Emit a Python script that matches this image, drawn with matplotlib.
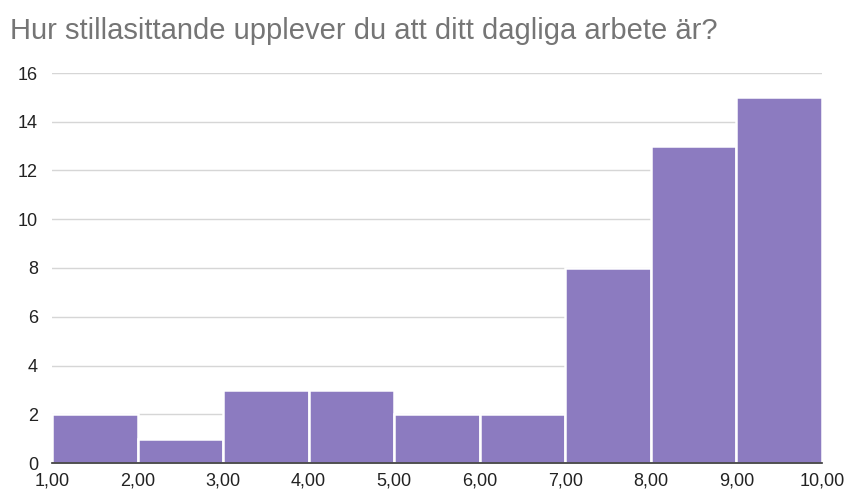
import matplotlib.pyplot as plt

# histogram bins (left edges) and counts
bin_starts = [1, 2, 3, 4, 5, 6, 7, 8, 9]
counts = [2, 1, 3, 3, 2, 2, 8, 13, 15]
x_ticks = [1, 2, 3, 4, 5, 6, 7, 8, 9, 10]
x_labels = ["1,00", "2,00", "3,00", "4,00", "5,00", "6,00", "7,00", "8,00", "9,00", "10,00"]
y_ticks = [0, 2, 4, 6, 8, 10, 12, 14, 16]

plt.rcParams['font.family'] = ['Liberation Sans', 'DejaVu Sans']

fig = plt.figure(figsize=(8.46, 4.9), dpi=100)
ax = fig.add_axes([52 / 846, 27 / 490, 770 / 846, 390 / 490])

ax.bar(bin_starts, counts, width=1, align='edge', color='#8c7bc0',
       edgecolor='white', linewidth=1.8, zorder=3)

ax.set_xlim(1, 10)
ax.set_ylim(0, 16)
ax.set_xticks(x_ticks)
ax.set_xticklabels(x_labels)
ax.set_yticks(y_ticks)
ax.tick_params(axis='both', length=0, labelsize=13, colors='#222222')
ax.tick_params(axis='x', pad=7)
ax.tick_params(axis='y', pad=10)

ax.grid(axis='y', color='#d6d6d6', linewidth=1, zorder=0)
for side in ['top', 'right', 'left']:
    ax.spines[side].set_visible(False)
ax.spines['bottom'].set_color('#333333')
ax.spines['bottom'].set_linewidth(1.2)
ax.spines['bottom'].set_zorder(4)

fig.text(10 / 846, 1 - 31 / 490, "Hur stillasittande upplever du att ditt dagliga arbete är?",
         fontsize=21, color='#757575', va='center', ha='left')

plt.savefig('out.png', dpi=100)
